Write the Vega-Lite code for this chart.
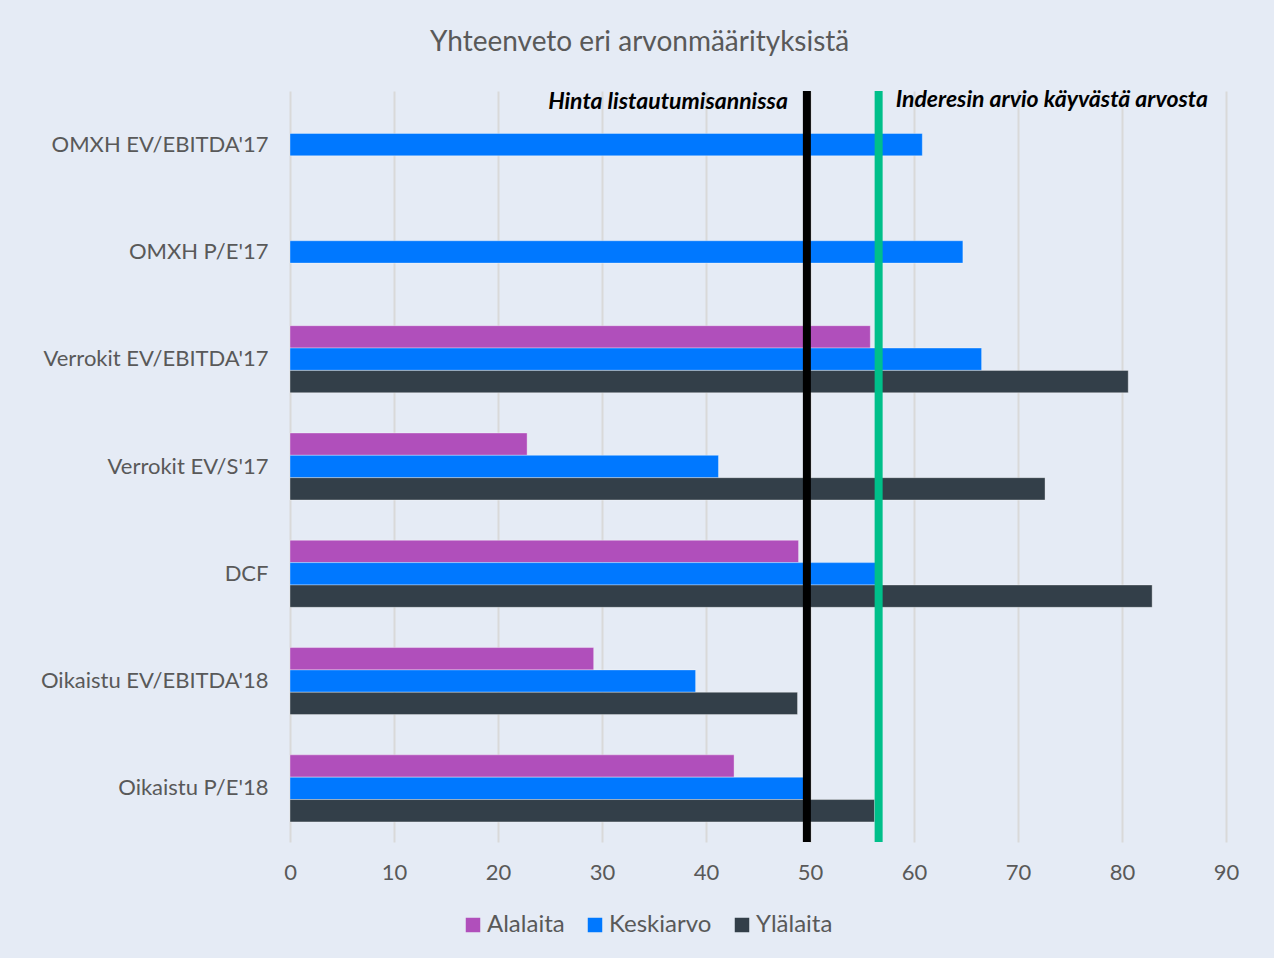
{
  "$schema": "https://vega.github.io/schema/vega-lite/v6.json",
  "width": 936,
  "height": 751,
  "background": "#E5EBF5",
  "padding": {"left": 40, "top": 29, "right": 48, "bottom": 24},
  "title": {"text": "Yhteenveto eri arvonmäärityksistä", "fontSize": 28, "font": "Lato", "fontWeight": "normal", "color": "#595959", "anchor": "middle", "frame": "bounds", "offset": 30},
  "datasets": {
    "bars": [
      {"cat": "OMXH EV/EBITDA'17", "series": "Keskiarvo", "value": 60.8},
      {"cat": "OMXH P/E'17", "series": "Keskiarvo", "value": 64.7},
      {"cat": "Verrokit EV/EBITDA'17", "series": "Alalaita", "value": 55.8},
      {"cat": "Verrokit EV/EBITDA'17", "series": "Keskiarvo", "value": 66.5},
      {"cat": "Verrokit EV/EBITDA'17", "series": "Ylälaita", "value": 80.6},
      {"cat": "Verrokit EV/S'17", "series": "Alalaita", "value": 22.8},
      {"cat": "Verrokit EV/S'17", "series": "Keskiarvo", "value": 41.2},
      {"cat": "Verrokit EV/S'17", "series": "Ylälaita", "value": 72.6},
      {"cat": "DCF", "series": "Alalaita", "value": 48.9},
      {"cat": "DCF", "series": "Keskiarvo", "value": 56.4},
      {"cat": "DCF", "series": "Ylälaita", "value": 82.9},
      {"cat": "Oikaistu EV/EBITDA'18", "series": "Alalaita", "value": 29.2},
      {"cat": "Oikaistu EV/EBITDA'18", "series": "Keskiarvo", "value": 39.0},
      {"cat": "Oikaistu EV/EBITDA'18", "series": "Ylälaita", "value": 48.8},
      {"cat": "Oikaistu P/E'18", "series": "Alalaita", "value": 42.7},
      {"cat": "Oikaistu P/E'18", "series": "Keskiarvo", "value": 49.4},
      {"cat": "Oikaistu P/E'18", "series": "Ylälaita", "value": 56.2}
    ],
    "ipo": [{"label": "Hinta listautumisannissa", "value": 49.7, "cat": "OMXH EV/EBITDA'17"}],
    "fair": [{"label": "Inderesin arvio käyvästä arvosta", "value": 56.6, "cat": "OMXH EV/EBITDA'17"}]
  },
  "layer": [
    {
      "data": {"name": "bars"},
      "mark": {"type": "bar", "stroke": "#ffffff", "strokeOpacity": 0.35, "strokeWidth": 1},
      "encoding": {
        "y": {"field": "cat", "type": "nominal", "sort": null,
          "scale": {"domain": ["OMXH EV/EBITDA'17", "OMXH P/E'17", "Verrokit EV/EBITDA'17", "Verrokit EV/S'17", "DCF", "Oikaistu EV/EBITDA'18", "Oikaistu P/E'18"], "paddingInner": 0.375, "paddingOuter": 0.1875},
          "axis": {"title": null, "domain": false, "ticks": false, "labelPadding": 22, "labelFontSize": 22, "labelFont": "Lato", "labelColor": "#595959", "labelLimit": 400}},
        "yOffset": {"field": "series", "type": "nominal", "scale": {"domain": ["Alalaita", "Keskiarvo", "Ylälaita"], "paddingInner": 0}},
        "x": {"field": "value", "type": "quantitative",
          "scale": {"domain": [0, 90], "nice": false},
          "axis": {"title": null, "values": [0, 10, 20, 30, 40, 50, 60, 70, 80, 90], "domain": false, "ticks": false, "grid": true, "gridColor": "#D9D9D9", "gridWidth": 2, "labelFlush": false, "labelPadding": 20, "labelFontSize": 22, "labelFont": "Lato", "labelColor": "#595959"}},
        "color": {"field": "series", "type": "nominal",
          "scale": {"domain": ["Alalaita", "Keskiarvo", "Ylälaita"], "range": ["#B04FBB", "#0078FF", "#333F49"]},
          "legend": {"title": null, "orient": "none", "legendX": 171, "legendY": 822, "direction": "horizontal", "symbolType": "square", "symbolSize": 210, "symbolStrokeWidth": 0, "labelFontSize": 24, "labelFont": "Lato", "labelColor": "#595959", "columnPadding": 18, "labelOffset": 2}}
      }
    },
    {
      "data": {"name": "ipo"},
      "mark": {"type": "rule", "color": "#000000", "strokeWidth": 8},
      "encoding": {"x": {"field": "value", "type": "quantitative"}}
    },
    {
      "data": {"name": "fair"},
      "mark": {"type": "rule", "color": "#00BF8A", "strokeWidth": 8},
      "encoding": {"x": {"field": "value", "type": "quantitative"}}
    },
    {
      "data": {"name": "ipo"},
      "mark": {"type": "text", "align": "right", "baseline": "middle", "dx": -19, "dy": -43, "font": "Lato", "fontSize": 23, "fontWeight": "bold", "fontStyle": "italic", "color": "#000000"},
      "encoding": {"x": {"field": "value", "type": "quantitative"}, "y": {"field": "cat", "type": "nominal"}, "text": {"field": "label"}}
    },
    {
      "data": {"name": "fair"},
      "mark": {"type": "text", "align": "left", "baseline": "middle", "dx": 17, "dy": -45, "font": "Lato", "fontSize": 23, "fontWeight": "bold", "fontStyle": "italic", "color": "#000000"},
      "encoding": {"x": {"field": "value", "type": "quantitative"}, "y": {"field": "cat", "type": "nominal"}, "text": {"field": "label"}}
    }
  ],
  "config": {
    "view": {"stroke": null}
  }
}
